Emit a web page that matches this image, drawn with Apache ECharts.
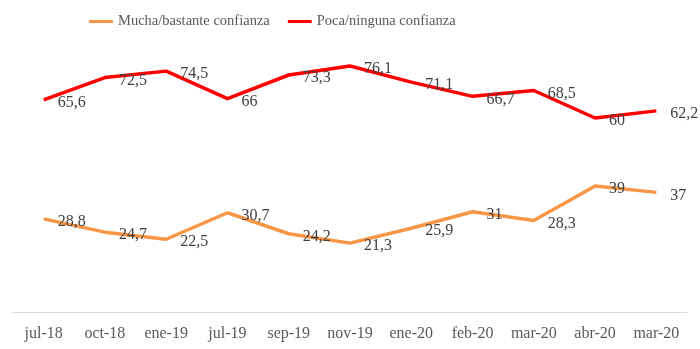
<!DOCTYPE html>
<html>
<head>
<meta charset="utf-8">
<script src="https://cdn.jsdelivr.net/npm/echarts@6/dist/echarts.min.js"></script>
<style>html,body{margin:0;padding:0;background:#fff}#c{width:700px;height:349px}</style>
</head>
<body>
<div id="c"></div>
<script>
const categories = ['jul-18','oct-18','ene-19','jul-19','sep-19','nov-19','ene-20','feb-20','mar-20','abr-20','mar-20'];
const mucha = [28.8, 24.7, 22.5, 30.7, 24.2, 21.3, 25.9, 31, 28.3, 39, 37];
const poca = [65.6, 72.5, 74.5, 66, 73.3, 76.1, 71.1, 66.7, 68.5, 60, 62.2];
const seriesNames = ['Mucha/bastante confianza', 'Poca/ninguna confianza'];

const font = 'Liberation Serif';
const label = {
  show: true, position: 'right', distance: 14, offset: [0, 3],
  color: '#404040', fontFamily: font, fontSize: 16,
  formatter: p => String(p.value).replace('.', ',')
};
const chart = echarts.init(document.getElementById('c'));
chart.setOption({
  animation: false,
  legend: {
    left: 84, top: 9, itemWidth: 24, itemHeight: 3, itemGap: 18,
    icon: 'roundRect',
    textStyle: { color: '#595959', fontFamily: font, fontSize: 14.5 },
    data: seriesNames
  },
  grid: { left: 13, right: 13, top: 21, bottom: 37 },
  xAxis: {
    type: 'category', data: categories, boundaryGap: true,
    axisLine: { lineStyle: { color: '#d9d9d9', width: 1 } },
    axisTick: { show: false },
    axisLabel: { color: '#595959', fontFamily: font, fontSize: 16, margin: 14, interval: 0 }
  },
  yAxis: { type: 'value', min: 0, max: 90, show: false, splitLine: { show: false } },
  series: [
    { name: seriesNames[0], type: 'line', data: mucha, symbol: 'circle', symbolSize: 0, showSymbol: true,
      lineStyle: { color: '#F79646', width: 3.5 }, itemStyle: { color: '#F79646' }, label },
    { name: seriesNames[1], type: 'line', data: poca, symbol: 'circle', symbolSize: 0, showSymbol: true,
      lineStyle: { color: '#FF0000', width: 3.5 }, itemStyle: { color: '#FF0000' }, label }
  ]
});
</script>
</body>
</html>
